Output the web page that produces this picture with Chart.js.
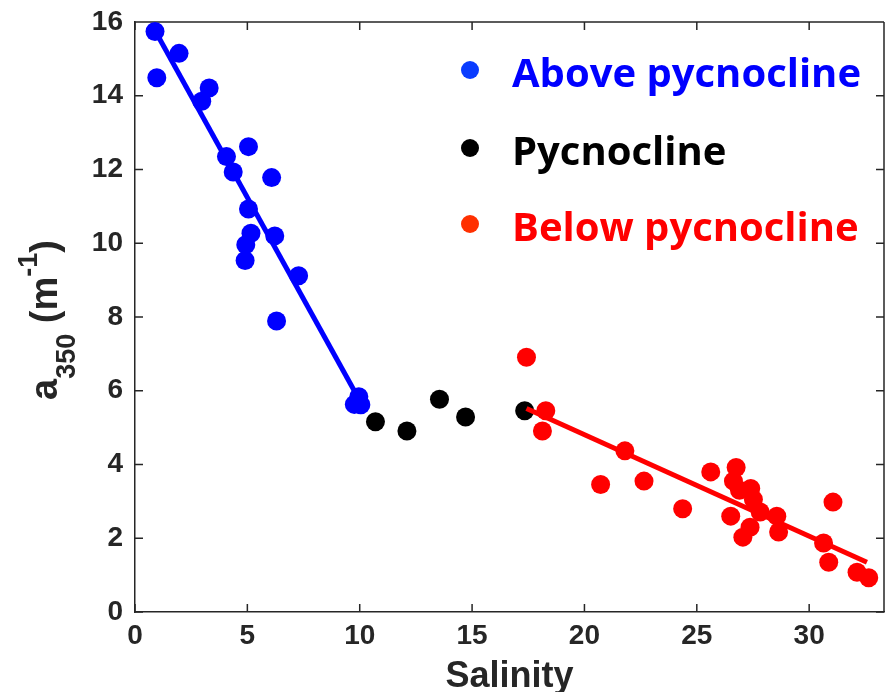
<!DOCTYPE html>
<html><head><meta charset="utf-8">
<script src="https://cdn.jsdelivr.net/npm/chart.js@4/dist/chart.umd.min.js"></script>
<style>html,body{margin:0;padding:0;background:#fff;}#wrap{width:885px;height:692px;position:relative;}</style>
</head><body><div id="wrap"><canvas id="c" width="885" height="692"></canvas></div>
<script>
// ---- data ----
const aboveSalinity = [0.89, 1.96, 0.97, 3.30, 2.97, 5.05, 4.07, 4.37, 6.08, 5.05, 5.16, 6.22, 4.93, 4.90, 7.28, 6.30, 9.96, 9.76, 10.05];
const aboveA350     = [15.74, 15.15, 14.49, 14.21, 13.85, 12.62, 12.35, 11.93, 11.78, 10.93, 10.27, 10.20, 9.96, 9.53, 9.12, 7.89, 5.84, 5.63, 5.62];
const pycnoSalinity = [10.70, 12.10, 13.55, 14.71, 17.34];
const pycnoA350     = [5.16, 4.91, 5.77, 5.29, 5.46];
const belowSalinity = [17.42, 18.28, 18.13, 21.80, 20.72, 22.65, 24.37, 25.62, 26.75, 26.63, 27.40, 27.52, 26.90, 27.82, 26.51, 28.56, 27.37, 27.05, 28.64, 31.06, 30.64, 30.87, 32.13, 32.65];
const belowA350     = [6.91, 5.46, 4.91, 4.37, 3.46, 3.55, 2.80, 3.80, 3.92, 3.55, 3.35, 3.05, 3.30, 2.71, 2.60, 2.60, 2.30, 2.03, 2.17, 2.98, 1.87, 1.35, 1.08, 0.93];
const aboveFitSalinity = [0.95, 9.85];
const aboveFitA350     = [15.70, 5.90];
const belowFitSalinity = [17.42, 32.57];
const belowFitA350     = [5.52, 1.35];
const xTickValues = [0, 5, 10, 15, 20, 25, 30];
const yTickValues = [0, 2, 4, 6, 8, 10, 12, 14, 16];
const legendLabels = ['Above pycnocline', 'Pycnocline', 'Below pycnocline'];
const xAxisTitle = 'Salinity';

const pts = (xs, ys) => xs.map((x, i) => ({x: x, y: ys[i]}));
const AXIS = '#262626';
const TICKFONT = {family: '"Liberation Sans", Arial, Helvetica, sans-serif', size: 28, weight: 'bold'};
const zeroPad = s => { s.paddingLeft = 0; s.paddingRight = 0; s.paddingTop = 0; s.paddingBottom = 0; };

const boxPlugin = {
  id: 'box',
  beforeDatasetsDraw(chart) {
    const {ctx, chartArea: a, scales: {x, y}} = chart;
    ctx.save();
    ctx.strokeStyle = AXIS; ctx.lineWidth = 1.5;
    ctx.beginPath();
    ctx.moveTo(a.left, a.top); ctx.lineTo(a.right, a.top);
    ctx.moveTo(a.right, a.top); ctx.lineTo(a.right, a.bottom);
    const L = 8;
    xTickValues.forEach(v => {
      const px = x.getPixelForValue(v);
      ctx.moveTo(px, a.bottom); ctx.lineTo(px, a.bottom - L);
      ctx.moveTo(px, a.top); ctx.lineTo(px, a.top + L);
    });
    yTickValues.forEach(v => {
      const py = y.getPixelForValue(v);
      ctx.moveTo(a.left, py); ctx.lineTo(a.left + L, py);
      ctx.moveTo(a.right, py); ctx.lineTo(a.right - L, py);
    });
    ctx.stroke();
    ctx.restore();
  },
  afterDraw(chart) {
    const {ctx, chartArea: a} = chart;
    ctx.save();
    ctx.fillStyle = AXIS;
    ctx.font = 'bold 36px "Liberation Sans", Arial, sans-serif';
    ctx.textAlign = 'center'; ctx.textBaseline = 'alphabetic';
    ctx.fillText(xAxisTitle, (a.left + a.right) / 2, 687);
    const mainF = 'bold 38px "Liberation Sans", Arial, sans-serif';
    const subF = 'bold 27px "Liberation Sans", Arial, sans-serif';
    const parts = [
      {t: 'a', f: mainF, dy: 0},
      {t: '350', f: subF, dy: 18},
      {t: ' (m', f: mainF, dy: 0},
      {t: '-1', f: subF, dy: -20},
      {t: ')', f: mainF, dy: 0}
    ];
    let total = 0;
    parts.forEach(p => { ctx.font = p.f; p.w = ctx.measureText(p.t).width; total += p.w; });
    ctx.translate(57, (a.top + a.bottom) / 2 + 3);
    ctx.rotate(-Math.PI / 2);
    ctx.textAlign = 'left';
    let cx = -total / 2;
    parts.forEach(p => { ctx.font = p.f; ctx.fillText(p.t, cx, p.dy); cx += p.w; });
    ctx.restore();
    ctx.save();
    const dotCols = ['#0A3CFF', '#000000', '#FF3000'];
    const txtCols = ['#0000FF', '#000000', '#FF0000'];
    const base = [87, 165, 241];
    ctx.font = 'bold 40px "Open Sans", "Noto Sans", sans-serif';
    ctx.textAlign = 'left'; ctx.textBaseline = 'alphabetic';
    legendLabels.forEach((lab, i) => {
      ctx.fillStyle = dotCols[i];
      ctx.beginPath(); ctx.arc(470, base[i] - 17, 9, 0, Math.PI * 2); ctx.fill();
      ctx.fillStyle = txtCols[i];
      ctx.fillText(lab, 512, base[i]);
    });
    ctx.restore();
  }
};

new Chart(document.getElementById('c'), {
  type: 'scatter',
  data: {
    datasets: [
      {label: 'fitAbove', data: pts(aboveFitSalinity, aboveFitA350), showLine: true, borderColor: '#0000FF', borderWidth: 5, pointRadius: 0, order: 0},
      {label: 'fitBelow', data: pts(belowFitSalinity, belowFitA350), showLine: true, borderColor: '#FF0000', borderWidth: 5, pointRadius: 0, order: 0},
      {label: legendLabels[0], data: pts(aboveSalinity, aboveA350), backgroundColor: '#0000FF', borderWidth: 0, pointRadius: 9.5, order: 1},
      {label: legendLabels[1], data: pts(pycnoSalinity, pycnoA350), backgroundColor: '#000000', borderWidth: 0, pointRadius: 9.5, order: 2},
      {label: legendLabels[2], data: pts(belowSalinity, belowA350), backgroundColor: '#FF0000', borderWidth: 0, pointRadius: 9.5, order: 1}
    ]
  },
  options: {
    responsive: false, animation: false, devicePixelRatio: 1,
    layout: {autoPadding: false, padding: {top: 22, right: 1, left: 0, bottom: 0}},
    plugins: {legend: {display: false}, tooltip: {enabled: false}},
    scales: {
      x: {
        type: 'linear', min: 0, max: 33.33,
        afterBuildTicks: s => { s.ticks = xTickValues.map(v => ({value: v})); },
        afterFit: s => { s.height = 80; zeroPad(s); },
        grid: {display: false, drawTicks: false},
        border: {display: true, color: AXIS, width: 1.5},
        ticks: {font: TICKFONT, color: AXIS, padding: 7, maxRotation: 0, autoSkip: false}
      },
      y: {
        type: 'linear', min: 0, max: 16,
        afterBuildTicks: s => { s.ticks = yTickValues.map(v => ({value: v})); },
        afterFit: s => { s.width = 135; zeroPad(s); },
        grid: {display: false, drawTicks: false},
        border: {display: true, color: AXIS, width: 1.5},
        ticks: {font: TICKFONT, color: AXIS, padding: 12, autoSkip: false}
      }
    }
  },
  plugins: [boxPlugin]
});
</script></body></html>
